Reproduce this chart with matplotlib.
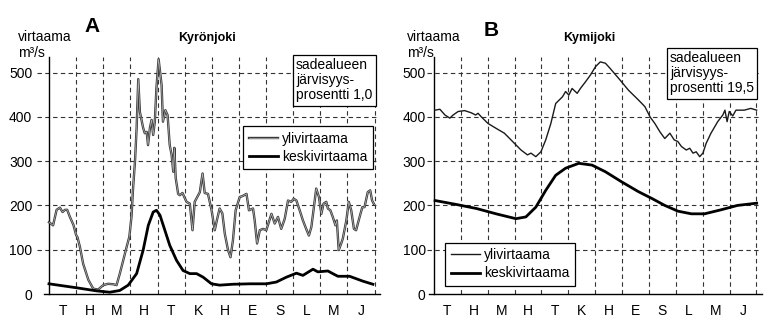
import matplotlib.pyplot as plt
import matplotlib.patheffects as pe

plt.rcParams["font.family"] = ["Liberation Sans", "DejaVu Sans"]

months = ["T", "H", "M", "H", "T", "K", "H", "E", "S", "L", "M", "J"]
yticks = [0, 100, 200, 300, 400, 500]

# Kyrönjoki, ylivirtaama (month position, m3/s)
a_yli_x = [0.00, 0.15, 0.28, 0.40, 0.50, 0.59, 0.67, 0.77, 0.90, 1.00, 1.05, 1.14,
           1.26, 1.45, 1.63, 1.81, 2.00, 2.18, 2.37, 2.49, 2.61, 2.74, 2.86, 2.96,
           3.04, 3.10, 3.17, 3.23, 3.29, 3.35, 3.47, 3.53, 3.60, 3.65, 3.72, 3.78,
           3.84, 3.90, 3.96, 4.04, 4.15, 4.20, 4.29, 4.37, 4.45, 4.52, 4.58, 4.62,
           4.67, 4.76, 4.82, 4.92, 5.07, 5.19, 5.29, 5.37, 5.50, 5.56, 5.66, 5.74,
           5.86, 5.99, 6.11, 6.19, 6.29, 6.39, 6.48, 6.60, 6.69, 6.78, 6.88, 7.03,
           7.13, 7.28, 7.37, 7.52, 7.58, 7.67, 7.77, 7.89, 8.01, 8.20, 8.32, 8.44,
           8.56, 8.69, 8.81, 8.93, 9.02, 9.12, 9.24, 9.36, 9.48, 9.58, 9.67, 9.75,
           9.85, 9.95, 10.04, 10.12, 10.22, 10.28, 10.37, 10.46, 10.56, 10.61, 10.68,
           10.77, 10.83, 10.96, 11.05, 11.14, 11.24, 11.32, 11.45, 11.55, 11.63,
           11.75, 11.84, 11.91, 11.97]
a_yli_y = [162, 155, 190, 195, 185, 190, 190, 174, 156, 133, 128, 106,
           68, 32, 12, 10, 20, 23, 22, 20, 46, 77, 106, 129,
           174, 240, 300, 375, 485, 411, 375, 363, 366, 336, 375, 393,
           359, 389, 465, 530, 472, 389, 415, 404, 336, 314, 276, 330,
           262, 226, 223, 228, 208, 204, 144, 208, 223, 230, 272, 228,
           226, 190, 144, 167, 193, 182, 136, 99, 83, 121, 189, 219,
           221, 226, 189, 193, 167, 114, 144, 147, 144, 181, 159, 174,
           147, 170, 211, 208, 215, 211, 189, 166, 147, 132, 151, 189,
           238, 219, 181, 204, 208, 193, 189, 174, 155, 166, 99,
           114, 125, 166, 208, 189, 147, 144, 174, 196, 196,
           230, 234, 211, 204]

# Kyrönjoki, keskivirtaama
a_kes_x = [0.00, 1.02, 1.76, 2.24, 2.61, 2.92, 3.23, 3.47, 3.66, 3.84, 3.96, 4.09,
           4.27, 4.45, 4.70, 4.94, 5.19, 5.44, 5.68, 5.99, 6.29, 6.78, 7.40, 8.01,
           8.38, 8.75, 9.12, 9.36, 9.73, 9.91, 10.28, 10.46, 10.65, 11.08, 11.57, 11.94]
a_kes_y = [23, 14, 7, 4, 8, 20, 46, 99, 155, 185, 189, 178,
           144, 110, 76, 53, 46, 46, 38, 23, 20, 22, 23, 23,
           27, 38, 47, 42, 56, 50, 52, 46, 40, 40, 29, 22]

# Kymijoki, ylivirtaama
b_yli_x = [0.04, 0.22, 0.41, 0.59, 0.71, 0.90, 1.14, 1.39, 1.55, 1.64, 1.76, 2.01,
           2.31, 2.62, 2.93, 3.24, 3.48, 3.61, 3.79, 3.98, 4.16, 4.35, 4.53, 4.78,
           4.90, 5.02, 5.14, 5.33, 5.45, 5.64, 5.82, 6.01, 6.19, 6.38, 6.56, 6.87,
           7.24, 7.61, 7.85, 8.04, 8.22, 8.41, 8.59, 8.78, 8.94, 9.08, 9.21, 9.39,
           9.52, 9.64, 9.76, 9.89, 10.01, 10.13, 10.31, 10.56, 10.75, 10.83, 10.91,
           10.99, 11.12, 11.24, 11.55, 11.79, 12.01]
b_yli_y = [415, 417, 404, 397, 404, 412, 414, 409, 404, 408, 400, 385,
           374, 363, 344, 325, 314, 318, 310, 321, 348, 385, 430, 445,
           457, 449, 464, 453, 464, 479, 494, 513, 524, 521, 509, 487,
           460, 438, 423, 400, 385, 366, 351, 363, 348, 344, 333, 325,
           329, 318, 321, 310, 318, 340, 363, 389, 404, 415, 389,
           412, 402, 415, 415, 419, 415]

# Kymijoki, keskivirtaama
b_kes_x = [0.04, 0.84, 1.58, 2.31, 3.05, 3.42, 3.79, 4.16, 4.53, 4.90, 5.39, 5.88,
           6.38, 6.99, 7.61, 8.10, 8.59, 9.08, 9.58, 10.07, 10.68, 11.30, 12.01]
b_kes_y = [211, 202, 193, 181, 170, 174, 196, 234, 268, 284, 295, 291,
           276, 253, 231, 216, 200, 187, 181, 181, 190, 200, 205]

fig = plt.figure(figsize=(7.8, 3.34), dpi=100)
axA = fig.add_axes([36.8 / 780, 1 - 294 / 334, 341 / 780, 237 / 334])
axB = fig.add_axes([427 / 780, 1 - 294 / 334, 332.6 / 780, 237 / 334])

grid_kw = dict(color="#333333", lw=0.8, linestyle=(0, (4, 3)), zorder=1)


def style_axes(ax, x0, pad):
    ax.set_xlim(x0, 12.12)
    ax.set_ylim(0, 535)
    for y in yticks[1:]:
        ax.axhline(y, **grid_kw)
    for m in range(1, 13):
        ax.axvline(m, **grid_kw)
    ax.spines["top"].set_visible(False)
    ax.spines["right"].set_visible(False)
    ax.spines["left"].set_position(("data", 0))
    ax.spines["left"].set_linewidth(1.0)
    ax.spines["bottom"].set_linewidth(1.0)
    ax.spines["bottom"].set_bounds(-0.2, 12.2)
    ax.set_yticks(yticks)
    ax.set_xticks([i + 0.5 for i in range(12)])
    ax.set_xticklabels(months)
    ax.tick_params(axis="y", length=0, pad=pad, labelsize=10)
    ax.tick_params(axis="x", length=0, pad=7, labelsize=10)


style_axes(axA, -0.45, 12)
style_axes(axB, -0.26, 6)

# scanned "hollow" look of the thin line in panel A
hollow = [pe.Stroke(linewidth=1.7, foreground="#3a3a3a"), pe.Normal()]
axA.plot(a_yli_x, a_yli_y, color="#b5b5b5", lw=0.5, zorder=3,
         path_effects=hollow, label="ylivirtaama")
axA.plot(a_kes_x, a_kes_y, color="black", lw=2.0, zorder=3, label="keskivirtaama")
axB.plot(b_yli_x, b_yli_y, color="#1a1a1a", lw=1.0, zorder=3, label="ylivirtaama")
axB.plot(b_kes_x, b_kes_y, color="black", lw=2.0, zorder=3, label="keskivirtaama")

leg_kw = dict(fontsize=10, frameon=True, fancybox=False, framealpha=1,
              edgecolor="black", borderaxespad=0, handlelength=2.1,
              handletextpad=0.3, labelspacing=0.3, borderpad=0.4)
legA = axA.legend(loc="upper left", bbox_to_anchor=(0.606, 0.709), **leg_kw)
legB = axB.legend(loc="lower left", bbox_to_anchor=(0.054, 0.034), **leg_kw)
for leg in (legA, legB):
    leg.get_frame().set_linewidth(0.9)
    leg.set_zorder(5)

box_kw = dict(boxstyle="square,pad=0.25", fc="white", ec="black", lw=0.9)
fig.text(296 / 780, 1 - 58 / 334, "sadealueen\njärvisyys-\nprosentti 1,0",
         fontsize=10, ha="left", va="top", linespacing=1.1, bbox=box_kw)
fig.text(670 / 780, 1 - 51 / 334, "sadealueen\njärvisyys-\nprosentti 19,5",
         fontsize=10, ha="left", va="top", linespacing=1.1, bbox=box_kw)

fig.text(92 / 780, 1 - 26 / 334, "A", fontsize=15, fontweight="bold",
         ha="center", va="center")
fig.text(491 / 780, 1 - 30 / 334, "B", fontsize=15, fontweight="bold",
         ha="center", va="center")
fig.text(207 / 780, 1 - 38 / 334, "Kyrönjoki", fontsize=9, fontweight="bold",
         ha="center", va="center")
fig.text(589 / 780, 1 - 38 / 334, "Kymijoki", fontsize=9, fontweight="bold",
         ha="center", va="center")

for x0 in (18, 407):
    fig.text(x0 / 780, 1 - 41 / 334, "virtaama", fontsize=10, ha="left",
             va="baseline")
    fig.text(x0 / 780, 1 - 57 / 334, "m³/s", fontsize=10, ha="left",
             va="baseline")

fig.savefig("out.png", dpi=100, facecolor="white")
